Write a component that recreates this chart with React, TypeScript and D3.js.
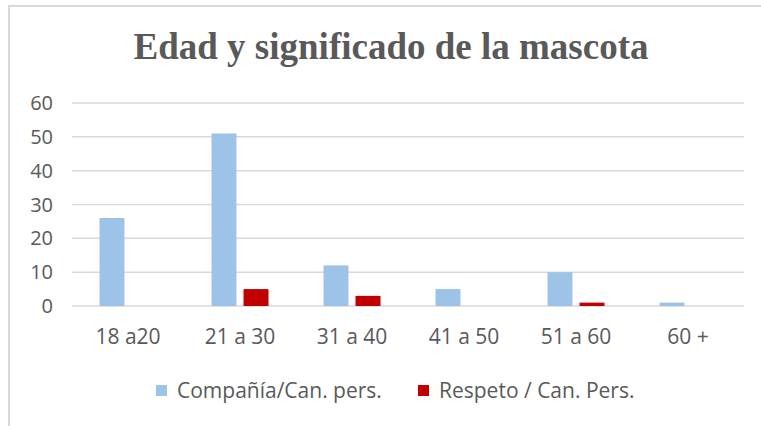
import React, { useEffect, useRef } from "react";
import * as d3 from "d3";

const categories = ["18 a20", "21 a 30", "31 a 40", "41 a 50", "51 a 60", "60 +"];
const seriesNames = ["Compañía/Can. pers.", "Respeto / Can. Pers."];
const compania = [26, 51, 12, 5, 10, 1];
const respeto = [0, 5, 3, 0, 1, 0];
const yTicks = [0, 10, 20, 30, 40, 50, 60];
const colors = ["#9DC3E6", "#C00000"];

const W = 761;
const H = 426;

export default function App() {
  const ref = useRef<SVGSVGElement>(null);
  useEffect(() => {
    const svg = d3.select(ref.current);
    svg.selectAll("*").remove();
    const left = 72, right = 744, top = 103, bottom = 306;
    const x = d3.scaleBand<string>().domain(categories).range([left, right]).padding(0);
    const y = d3.scaleLinear().domain([0, 60]).range([bottom, top]);
    const inner = d3.scaleBand<number>().domain([0, 1]).range([0, 57]).paddingInner(0.22);

    svg.append("rect").attr("x", 0).attr("y", 0).attr("width", W).attr("height", H).attr("fill", "#fff");
    svg.append("path").attr("d", `M9,${H} V6 H${W}`).attr("fill", "none").attr("stroke", "#D9D9D9").attr("stroke-width", 2);

    svg.append("text").attr("x", 391).attr("y", 59).attr("text-anchor", "middle")
      .attr("font-family", "'Liberation Serif', 'Times New Roman', serif").attr("font-weight", "bold")
      .attr("font-size", 37).attr("fill", "#595959").text("Edad y significado de la mascota");

    const g = svg.append("g");
    g.selectAll("line.grid").data(yTicks).enter().append("line")
      .attr("x1", left).attr("x2", right).attr("y1", d => y(d)).attr("y2", d => y(d))
      .attr("stroke", "#D9D9D9").attr("stroke-width", 1.5);

    g.selectAll("text.ytick").data(yTicks).enter().append("text")
      .attr("x", 53).attr("y", d => y(d)).attr("dy", "0.35em").attr("text-anchor", "end")
      .attr("font-family", "'Open Sans', sans-serif").attr("font-size", 20).attr("fill", "#595959")
      .text(d => String(d));

    const series = [compania, respeto];
    series.forEach((vals, si) => {
      g.selectAll(`rect.s${si}`).data(vals).enter().append("rect")
        .attr("x", (d, i) => (x(categories[i]) as number) + x.bandwidth() / 2 - 28.5 + (inner(si) as number))
        .attr("width", inner.bandwidth())
        .attr("y", d => y(d))
        .attr("height", d => bottom - y(d))
        .attr("fill", colors[si]);
    });

    g.selectAll("text.xtick").data(categories).enter().append("text")
      .attr("x", d => (x(d) as number) + x.bandwidth() / 2).attr("y", 337).attr("dy", "0.35em")
      .attr("text-anchor", "middle")
      .attr("font-family", "'Open Sans', sans-serif").attr("font-size", 21).attr("fill", "#595959")
      .text(d => d);

    const legendX = [156, 418];
    seriesNames.forEach((n, i) => {
      svg.append("rect").attr("x", legendX[i]).attr("y", 385).attr("width", 11).attr("height", 11).attr("fill", colors[i]);
      svg.append("text").attr("x", legendX[i] + 21).attr("y", 391).attr("dy", "0.35em")
        .attr("font-family", "'Open Sans', sans-serif").attr("font-size", 21).attr("fill", "#595959")
        .text(n);
    });
  }, []);
  return (
    <svg ref={ref} width={W} height={H} style={{ position: "absolute", left: 0, top: 0 }} />
  );
}
